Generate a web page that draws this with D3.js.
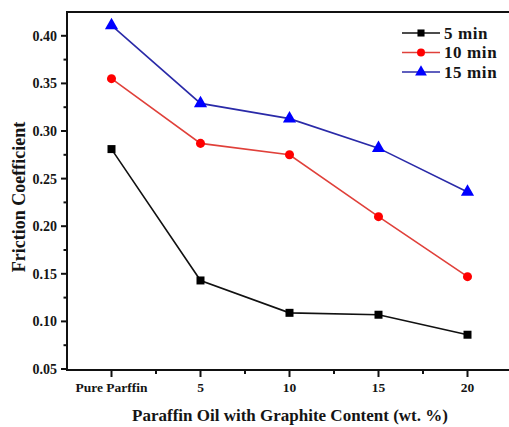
<!DOCTYPE html>
<html>
<head>
  <meta charset="utf-8">
  <script src="https://d3js.org/d3.v7.min.js"></script>
  <style>
    body { margin: 0; background: #fff; }
    text { font-family: "Liberation Serif", "Times New Roman", serif; font-weight: bold; fill: #151515; }
  </style>
</head>
<body>
  <div id="container"></div>
  <script type="text/javascript">

    var w = 509,
        h = 427;

    // data
    var categories = ['Pure Parffin', '5', '10', '15', '20'];
    var series5  = [0.281, 0.143, 0.109, 0.107, 0.086];
    var series10 = [0.355, 0.287, 0.275, 0.210, 0.147];
    var series15 = [0.411, 0.329, 0.313, 0.282, 0.236];
    var seriesNames = ['5 min', '10 min', '15 min'];
    var yTicks = [0.05, 0.10, 0.15, 0.20, 0.25, 0.30, 0.35, 0.40];

    var series = [
      { name: seriesNames[0], values: series5,  line: '#111',    fill: '#000',    shape: d3.symbolSquare },
      { name: seriesNames[1], values: series10, line: '#e0403a', fill: '#ff0000', shape: d3.symbolCircle },
      { name: seriesNames[2], values: series15, line: '#2a2aa8', fill: '#0000ff', shape: d3.symbolTriangle }
    ];

    var mLeft = 67, mRight = 512, mTop = 12, mBottom = 370;

    var svg = d3.select('#container').append('svg')
      .attr('width', w)
      .attr('height', h);

    var x = d3.scalePoint().domain(categories).range([111.5, 467.5]);
    var y = d3.scaleLinear().domain([0.05, 0.425]).range([369, mTop]);

    // frame (top + bottom + left), right side runs off the image
    svg.append('path')
      .attr('d', 'M' + mRight + ',' + mTop + 'H' + mLeft + 'V' + mBottom + 'H' + mRight)
      .attr('fill', 'none')
      .attr('stroke', '#111')
      .attr('stroke-width', 2);

    // y axis
    var yMinor = d3.range(0.075, 0.425, 0.05);
    var gy = svg.append('g');
    gy.selectAll('line.major').data(yTicks).enter().append('line')
      .attr('x1', mLeft - 6).attr('x2', mLeft)
      .attr('y1', function(d) { return y(d); }).attr('y2', function(d) { return y(d); })
      .attr('stroke', '#111').attr('stroke-width', 2);
    gy.selectAll('line.minor').data(yMinor).enter().append('line')
      .attr('x1', mLeft - 3.5).attr('x2', mLeft)
      .attr('y1', function(d) { return y(d); }).attr('y2', function(d) { return y(d); })
      .attr('stroke', '#111').attr('stroke-width', 2);
    gy.selectAll('text').data(yTicks).enter().append('text')
      .attr('x', mLeft - 10)
      .attr('y', function(d) { return y(d); })
      .attr('dy', '0.35em')
      .attr('text-anchor', 'end')
      .style('font-size', '14px')
      .text(function(d) { return d3.format('.2f')(d); });

    // x axis
    var step = x.step();
    var xMinor = categories.slice(0, 4).map(function(c) { return x(c) + step / 2; });
    var gx = svg.append('g');
    gx.selectAll('line.major').data(categories).enter().append('line')
      .attr('x1', function(d) { return x(d); }).attr('x2', function(d) { return x(d); })
      .attr('y1', mBottom).attr('y2', mBottom + 7)
      .attr('stroke', '#111').attr('stroke-width', 2);
    gx.selectAll('line.minor').data(xMinor).enter().append('line')
      .attr('x1', function(d) { return d; }).attr('x2', function(d) { return d; })
      .attr('y1', mBottom).attr('y2', mBottom + 4)
      .attr('stroke', '#111').attr('stroke-width', 2);
    gx.selectAll('text').data(categories).enter().append('text')
      .attr('x', function(d) { return x(d); })
      .attr('y', 392)
      .attr('text-anchor', 'middle')
      .style('font-size', '13.5px')
      .text(function(d) { return d; });

    // axis titles
    svg.append('text')
      .attr('x', 290)
      .attr('y', 421)
      .attr('text-anchor', 'middle')
      .style('font-size', '17px')
      .text('Paraffin Oil with Graphite Content (wt. %)');

    svg.append('text')
      .attr('transform', 'translate(25,197) rotate(-90)')
      .attr('text-anchor', 'middle')
      .style('font-size', '18px')
      .text('Friction Coefficient');

    // lines + markers
    var line = d3.line()
      .x(function(d, i) { return x(categories[i]); })
      .y(function(d) { return y(d); });

    series.forEach(function(s) {
      svg.append('path')
        .datum(s.values)
        .attr('d', line)
        .attr('fill', 'none')
        .attr('stroke', s.line)
        .attr('stroke-width', 1.6);
      svg.selectAll(null).data(s.values).enter().append('path')
        .attr('d', d3.symbol().type(s.shape).size(s.shape === d3.symbolTriangle ? 75 : 64))
        .attr('transform', function(d, i) { return 'translate(' + x(categories[i]) + ',' + y(d) + ')'; })
        .attr('fill', s.fill);
    });

    // legend
    var lg = svg.append('g').attr('transform', 'translate(402,33)');
    var item = lg.selectAll('g').data(series).enter().append('g')
      .attr('transform', function(d, i) { return 'translate(0,' + (i * 19.5) + ')'; });
    item.append('line')
      .attr('x1', 0).attr('x2', 38)
      .attr('stroke', function(d) { return d.line; })
      .attr('stroke-width', 1.6);
    item.append('path')
      .attr('d', function(d) { return d3.symbol().type(d.shape).size(d.shape === d3.symbolTriangle ? 60 : 50)(); })
      .attr('transform', 'translate(19,0)')
      .attr('fill', function(d) { return d.fill; });
    item.append('text')
      .attr('x', 42)
      .attr('dy', '0.35em')
      .style('font-size', '17px')
      .style('letter-spacing', '0.6px')
      .text(function(d) { return d.name; });

  </script>
</body>
</html>
